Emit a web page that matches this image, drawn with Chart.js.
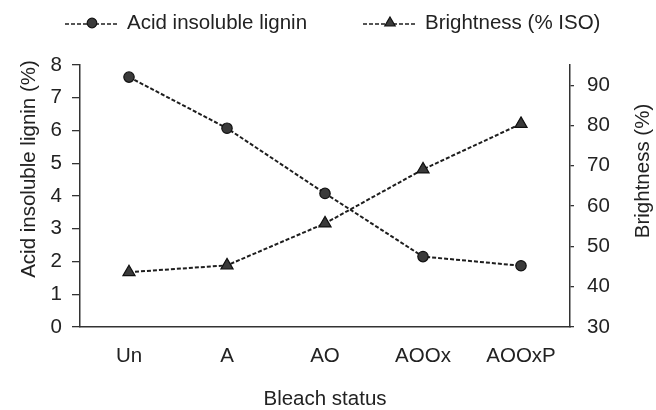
<!DOCTYPE html>
<html>
<head>
<meta charset="utf-8">
<script src="https://cdn.jsdelivr.net/npm/chart.js@4.4.0/dist/chart.umd.min.js"></script>
<style>
  html, body { margin: 0; padding: 0; background: #fff; }
</style>
</head>
<body>
<canvas id="chart" width="656" height="410"></canvas>
<script>
// values
var categories = ['Un', 'A', 'AO', 'AOOx', 'AOOxP'];
var ligninValues = [7.63, 6.07, 4.08, 2.15, 1.87];
var brightnessValues = [43.6, 45.3, 55.7, 69.1, 80.4];
var brightnessTicks = [30, 40, 50, 60, 70, 80, 90];
var seriesNames = ['Acid insoluble lignin', 'Brightness (% ISO)'];
var axisTitles = ['Acid insoluble lignin (%)', 'Brightness (%)', 'Bleach status'];

var FONT = '"Liberation Sans", Arial, Helvetica, sans-serif';
var INK = '#222';

function drawMarker(ctx, style, x, y, r, ds) {
    ctx.save();
    ctx.fillStyle = ds.pointBackgroundColor;
    ctx.strokeStyle = ds.pointBorderColor;
    ctx.lineWidth = 1.2;
    ctx.setLineDash([]);
    ctx.beginPath();
    if (style === 'triangle') {
        ctx.moveTo(x, y - r);
        ctx.lineTo(x + r * 0.866, y + r * 0.5);
        ctx.lineTo(x - r * 0.866, y + r * 0.5);
        ctx.closePath();
    } else {
        ctx.arc(x, y, r, 0, Math.PI * 2);
    }
    ctx.fill();
    ctx.stroke();
    ctx.restore();
}

// legend with dashed sample line + marker, and the two rotated y titles
var legendAndTitles = {
    id: 'legendAndTitles',
    afterDraw: function(chart) {
        var ctx = chart.ctx;
        ctx.save();
        ctx.font = '20.5px ' + FONT;
        ctx.fillStyle = INK;
        ctx.textBaseline = 'middle';
        var starts = [65, 363];
        chart.data.datasets.forEach(function(ds, i) {
            var x0 = starts[i], y = 23;
            ctx.save();
            ctx.strokeStyle = ds.borderColor;
            ctx.lineWidth = 1.6;
            ctx.setLineDash([4, 2]);
            ctx.beginPath();
            ctx.moveTo(x0, y + 1);
            ctx.lineTo(x0 + 52, y + 1);
            ctx.stroke();
            ctx.restore();
            drawMarker(ctx, ds.pointStyle, x0 + 27, y, i ? 6 : 4.8, ds);
            ctx.textAlign = 'left';
            ctx.fillText(ds.label, x0 + 62, y);
        });

        ctx.textAlign = 'center';
        [[29, 169, axisTitles[0]], [643, 171, axisTitles[1]]].forEach(function(t) {
            ctx.save();
            ctx.translate(t[0], t[1]);
            ctx.rotate(-Math.PI / 2);
            ctx.fillText(t[2], 0, 0);
            ctx.restore();
        });
        ctx.restore();
    }
};

Chart.defaults.font.family = FONT;
Chart.defaults.font.size = 20.5;
Chart.defaults.color = INK;

var ctx = document.getElementById('chart').getContext('2d');
var myChart = new Chart(ctx, {
    type: 'line',
    data: {
        labels: categories,
        datasets: [{
            label: seriesNames[0],
            data: ligninValues,
            yAxisID: 'yL',
            borderColor: '#1e1e1e',
            borderWidth: 2,
            borderDash: [4, 2],
            pointStyle: 'circle',
            pointRadius: 5.2,
            pointBorderWidth: 1.2,
            pointBackgroundColor: '#3a3a3a',
            pointBorderColor: '#111',
            tension: 0,
            fill: false
        }, {
            label: seriesNames[1],
            data: brightnessValues,
            yAxisID: 'yR',
            borderColor: '#1e1e1e',
            borderWidth: 2,
            borderDash: [4, 2],
            pointStyle: 'triangle',
            pointRadius: 7,
            pointBorderWidth: 1.2,
            pointBackgroundColor: '#3a3a3a',
            pointBorderColor: '#111',
            tension: 0,
            fill: false
        }]
    },
    options: {
        responsive: false,
        animation: false,
        devicePixelRatio: 1,
        layout: { padding: { top: 65, left: 0, right: 0, bottom: 0 } },
        plugins: {
            legend: { display: false },
            tooltip: { enabled: false }
        },
        scales: {
            x: {
                offset: true,
                grid: { display: false, drawTicks: false },
                border: { display: true, color: '#333', width: 1.5 },
                ticks: { padding: 17, color: INK },
                title: {
                    display: true,
                    text: axisTitles[2],
                    color: INK,
                    font: { size: 20.5, lineHeight: 1 },
                    padding: 0
                },
                afterFit: function(scale) { scale.height = 83; }
            },
            yL: {
                position: 'left',
                min: 0,
                max: 8,
                ticks: { stepSize: 1, padding: 10, color: INK },
                grid: { drawOnChartArea: false, drawTicks: true, tickLength: 8, color: '#333', lineWidth: 1.3 },
                border: { display: true, color: '#333', width: 1.5 },
                afterFit: function(scale) { scale.width = 80; }
            },
            yR: {
                position: 'right',
                min: 30,
                max: 95,
                ticks: { padding: 13, color: INK },
                grid: { drawOnChartArea: false, drawTicks: true, tickLength: 4, color: '#333', lineWidth: 1.3 },
                border: { display: true, color: '#333', width: 1.5 },
                afterBuildTicks: function(scale) {
                    scale.ticks = brightnessTicks.map(function(v) { return { value: v }; });
                },
                afterFit: function(scale) { scale.width = 86; }
            }
        }
    },
    plugins: [legendAndTitles]
});
</script>
</body>
</html>
